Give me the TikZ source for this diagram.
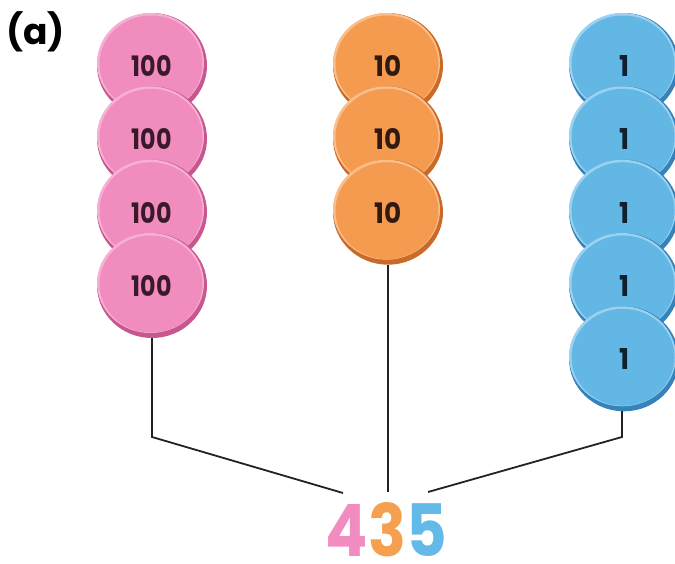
\documentclass[tikz,border=0pt]{standalone}
\usepackage{fontspec}
\usepackage{graphicx}
\setmainfont{Poppins}
\definecolor{pinkF}{HTML}{F08CBE}
\definecolor{pinkR}{HTML}{C8578F}
\definecolor{pinkH}{HTML}{F6B0D3}
\definecolor{pinkT}{HTML}{3A1A2A}
\definecolor{orangeF}{HTML}{F59B50}
\definecolor{orangeR}{HTML}{C96A28}
\definecolor{orangeH}{HTML}{F9BE8A}
\definecolor{orangeT}{HTML}{2E1A10}
\definecolor{blueF}{HTML}{62B7E5}
\definecolor{blueR}{HTML}{3682BA}
\definecolor{blueH}{HTML}{9AD2F0}
\definecolor{blueT}{HTML}{12202E}
\definecolor{pinkD}{HTML}{F28BBF}
\definecolor{orangeD}{HTML}{F5A04F}
\definecolor{blueD}{HTML}{63B9E8}
\definecolor{lineC}{HTML}{222222}
\newcommand\chip[6]{%
  \fill[#3R] (#1,#2) ellipse [x radius=55,y radius=52.5];
  \fill[#3H] (#1-1.5,#2-2.5) ellipse [x radius=53.5,y radius=50];
  \fill[#3F] (#1-1,#2-1.5) ellipse [x radius=51.5,y radius=48.5];
  \node[text=#3T,inner sep=0pt] (#6) at (#1,#2+0.5) {\resizebox{#4pt}{21pt}{\bfseries #5}};
}
\begin{document}
\begin{tikzpicture}[x=1pt,y=-1pt,
  conn/.style={draw=lineC,line width=1.8pt,line join=miter}]
\useasboundingbox (0,0) rectangle (675,564);
\clip (0,0) rectangle (675,564);
\node[anchor=west,inner sep=0pt] (lab) at (6,32) {\fontsize{36}{36}\selectfont\bfseries (a)};
% pink column
\chip{152}{65.5}{pink}{40}{100}{p1}
\chip{152}{138.8}{pink}{40}{100}{p2}
\chip{152}{212.2}{pink}{40}{100}{p3}
\chip{152}{285.5}{pink}{40}{100}{p4}
% orange column
\chip{388}{65.5}{orange}{27}{10}{o1}
\chip{388}{138.8}{orange}{27}{10}{o2}
\chip{388}{212.2}{orange}{27}{10}{o3}
% blue column
\chip{624}{65.5}{blue}{10}{1}{b1}
\chip{624}{138.8}{blue}{10}{1}{b2}
\chip{624}{212.2}{blue}{10}{1}{b3}
\chip{624}{285.5}{blue}{10}{1}{b4}
\chip{624}{358.8}{blue}{10}{1}{b5}
% number
\node[inner sep=0pt] (num) at (386.5,529.5) {\resizebox{121pt}{54pt}{\bfseries\textcolor{pinkD}{4}\textcolor{orangeD}{3}\textcolor{blueD}{5}}};
% connector points
\coordinate (pb) at (152,338);
\coordinate (pk) at (152,437);
\coordinate (pe) at (343,493);
\coordinate (ob) at (388,265);
\coordinate (oe) at (388,492);
\coordinate (bb) at (622,411);
\coordinate (bk) at (622,437);
\coordinate (be) at (428,492);
\draw[conn] (pb) -- (pk) -- (pe);
\draw[conn] (ob) -- (oe);
\draw[conn] (bb) -- (bk) -- (be);
\end{tikzpicture}
\end{document}
